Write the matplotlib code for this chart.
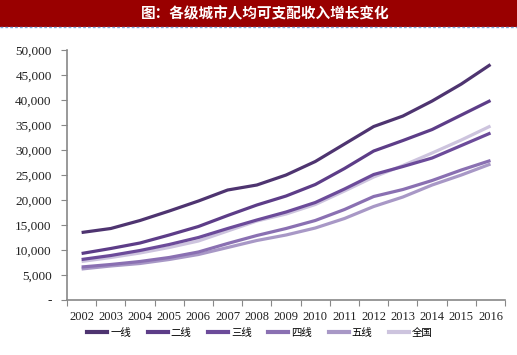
import matplotlib
matplotlib.use("Agg")
import matplotlib.pyplot as plt
from matplotlib.patches import Rectangle
from matplotlib.lines import Line2D
from matplotlib.ticker import FuncFormatter

plt.rcParams['font.family'] = ['Noto Sans CJK SC', 'DejaVu Sans']

# ----------------------------
# data
# ----------------------------
years = [str(y) for y in range(2002, 2017)]
series_names = ["一线", "二线", "三线", "四线", "五线", "全国"]

tier1 = [13500, 14300, 15900, 17800, 19800, 22000, 23000, 25000, 27700, 31200, 34700, 36800, 39800, 43200, 47100]
tier2 = [9300, 10300, 11400, 13000, 14700, 16900, 19000, 20800, 23100, 26300, 29800, 31900, 34100, 37000, 39900]
tier3 = [8100, 8900, 9900, 11100, 12500, 14300, 16000, 17600, 19500, 22200, 25100, 26700, 28400, 30900, 33400]
tier4 = [6600, 7100, 7700, 8500, 9600, 11300, 12900, 14300, 15900, 18100, 20700, 22100, 23900, 26000, 27900]
tier5 = [6200, 6800, 7300, 8100, 9100, 10500, 11900, 13000, 14400, 16300, 18700, 20600, 23000, 25000, 27200]
national = [7700, 8500, 9400, 10500, 11800, 13800, 15800, 17200, 19100, 21800, 24600, 26900, 29400, 32000, 34800]

colors = ["#4e3470", "#5d3d88", "#6c4b9a", "#8a70b2", "#a898c6", "#cdc4de"]

fig = plt.figure(figsize=(5.17, 3.55), dpi=100)

# title bar
fig.patches.append(Rectangle((0, 0.925), 1, 0.075, transform=fig.transFigure,
                             facecolor="#990000", edgecolor="none", zorder=0))
fig.add_artist(Line2D([0, 1], [0.923, 0.923], transform=fig.transFigure,
                      color="#7fa7d9", lw=1, ls=(0, (2, 1.5))))
fig.text(0.513, 0.962, "图：各级城市人均可支配收入增长变化", color="white",
         fontsize=10.5, fontweight="bold", ha="center", va="center")

ax = fig.add_axes([0.1296, 0.155, 0.8474, 0.704])

all_series = [tier1, tier2, tier3, tier4, tier5, national]
x = list(range(len(years)))
# draw light ones first so darker lines sit on top
for i in [5, 4, 3, 2, 1, 0]:
    ax.plot(x, all_series[i], color=colors[i], lw=2.3, solid_capstyle="butt",
            label=series_names[i])

ax.set_xlim(-0.5, len(years) - 0.5)
ax.set_ylim(0, 50000)
ax.set_yticks(range(0, 50001, 5000))
ax.yaxis.set_major_formatter(FuncFormatter(lambda v, p: "-" if v == 0 else f"{int(v):,}"))
ax.set_xticks([i - 0.5 for i in range(len(years) + 1)])
ax.set_xticklabels([])
ax.set_xticks(x, minor=True)
ax.set_xticklabels(years, minor=True)
ax.tick_params(axis="x", which="minor", length=0, pad=8)
ax.tick_params(axis="x", which="major", length=4, color="#888888", direction="out")
ax.tick_params(axis="y", length=4, color="#888888", direction="out", pad=7)

for lab in ax.get_yticklabels():
    lab.set_fontfamily("Liberation Serif")
    lab.set_fontsize(9.5)
    lab.set_color("#222222")
for lab in ax.get_xticklabels(minor=True):
    lab.set_fontfamily("Liberation Serif")
    lab.set_fontsize(9)
    lab.set_color("#222222")

for s in ["top", "right"]:
    ax.spines[s].set_visible(False)
for s in ["left", "bottom"]:
    ax.spines[s].set_color("#888888")
    ax.spines[s].set_linewidth(1.2)

handles = [Line2D([0], [0], color=colors[i], lw=3) for i in range(6)]
fig.legend(handles, series_names, loc="center", bbox_to_anchor=(0.503, 0.063), ncol=6,
           frameon=False, fontsize=7.5, handlelength=1.9, handletextpad=0.3,
           columnspacing=1.6)

fig.savefig("out.png", dpi=100)
